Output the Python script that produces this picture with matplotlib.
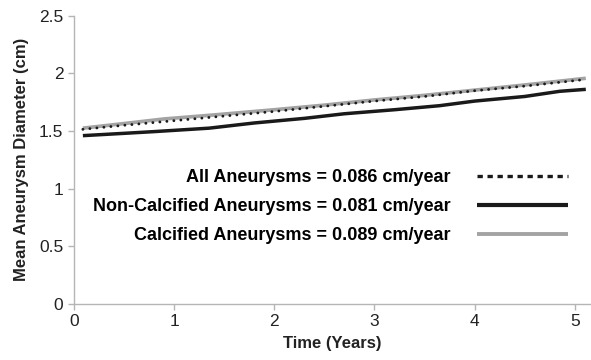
import matplotlib as mpl

mpl.use("Agg")
import matplotlib.pyplot as plt
from matplotlib.ticker import FuncFormatter

plt.rcParams["font.family"] = ["Liberation Sans", "DejaVu Sans"]

# Values (time in years, mean diameter in cm)
time_all = [0.09, 0.5, 1.0, 1.5, 2.0, 2.5, 3.0, 3.5, 4.0, 4.5, 5.11]
diam_all = [1.515, 1.55, 1.59, 1.63, 1.67, 1.715, 1.76, 1.80, 1.85, 1.89, 1.948]

time_noncalc = [0.09, 0.5, 0.8, 1.35, 1.8, 2.3, 2.7, 3.2, 3.65, 4.0, 4.5, 4.85, 5.11]
diam_noncalc = [1.46, 1.48, 1.495, 1.525, 1.57, 1.61, 1.65, 1.685, 1.72, 1.76, 1.80, 1.845, 1.862]

time_calc = [0.09, 0.5, 0.9, 1.4, 2.0, 2.5, 3.0, 3.5, 4.0, 4.5, 5.11]
diam_calc = [1.525, 1.565, 1.605, 1.64, 1.685, 1.725, 1.77, 1.81, 1.855, 1.90, 1.958]

labels = [
    "All Aneurysms = 0.086 cm/year",
    "Non-Calcified Aneurysms = 0.081 cm/year",
    "Calcified Aneurysms = 0.089 cm/year",
]
x_ticks = [0, 1, 2, 3, 4, 5]
y_ticks = [0, 0.5, 1, 1.5, 2, 2.5]

fig = plt.figure(figsize=(5.91, 3.60), dpi=100)
ax = fig.add_axes([0.125, 0.156, 0.873, 0.8])

l_calc, = ax.plot(time_calc, diam_calc, color="#a3a3a3", lw=2.6, solid_capstyle="butt")
l_non, = ax.plot(time_noncalc, diam_noncalc, color="#1a1a1a", lw=2.5, solid_capstyle="butt")
l_all, = ax.plot(time_all, diam_all, color="#1a1a1a", lw=2.1, linestyle=(0, (0.01, 2.4)),
                 dash_capstyle="round")

leg = ax.legend(
    [l_all, l_non, l_calc], labels,
    loc="center right", bbox_to_anchor=(0.957, 0.337),
    markerfirst=False, frameon=False, handlelength=5.0, handletextpad=1.5,
    labelspacing=0.66, borderpad=0, borderaxespad=0,
    prop={"weight": "bold", "size": 13},
)
leg_lines = leg.get_lines()
leg_lines[0].set_linestyle((0, (1.6, 1.4)))
leg_lines[0].set_dash_capstyle("butt")
leg_lines[0].set_linewidth(2.4)
leg_lines[1].set_linewidth(3.0)
leg_lines[2].set_linewidth(2.8)

ax.set_xlim(0, 5.15)
ax.set_ylim(0, 2.5)
ax.set_xticks(x_ticks)
ax.set_yticks(y_ticks)
ax.yaxis.set_major_formatter(FuncFormatter(lambda v, p: f"{v:g}"))

for side in ["top", "right"]:
    ax.spines[side].set_visible(False)
for side in ["left", "bottom"]:
    ax.spines[side].set_color("#b5b5b5")
    ax.spines[side].set_linewidth(1.0)
ax.tick_params(colors="#b5b5b5", labelcolor="#222222", labelsize=12.5, length=4, width=1)

ax.set_xlabel("Time (Years)", fontsize=12, fontweight="bold", color="#222222", labelpad=5)
ax.set_ylabel("Mean Aneurysm Diameter (cm)", fontsize=12, fontweight="bold",
              color="#222222", labelpad=7)

fig.savefig("out.png", dpi=100)
